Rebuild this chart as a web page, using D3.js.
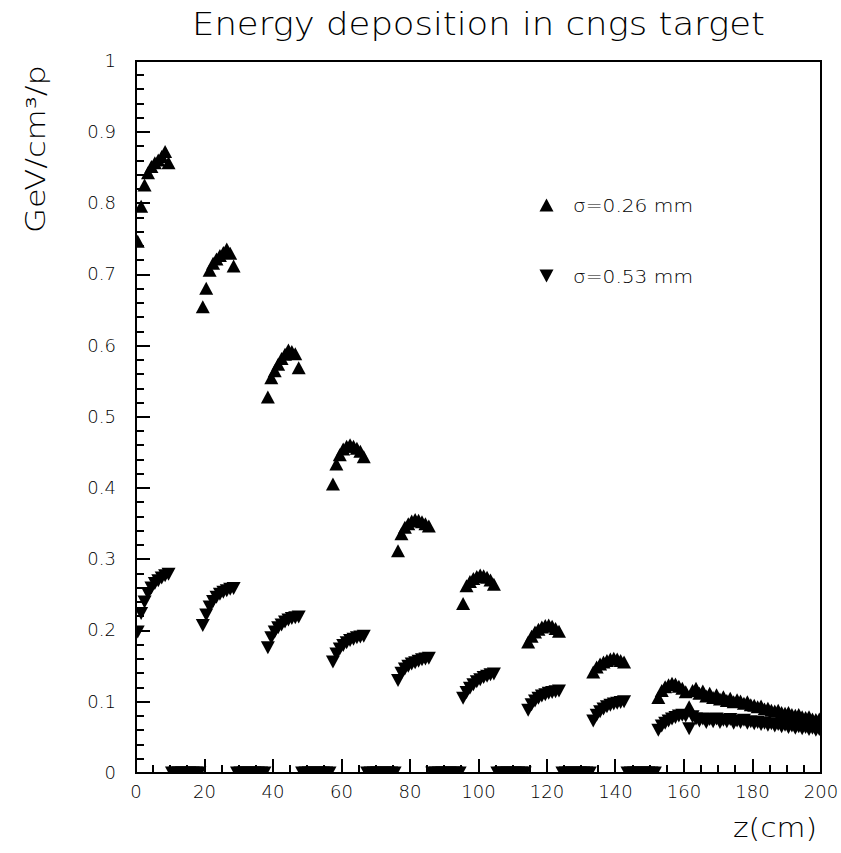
<!DOCTYPE html>
<html><head><meta charset="utf-8">
<script src="https://cdn.jsdelivr.net/npm/d3@7"></script>
<style>html,body{margin:0;padding:0;background:#fff;} svg{display:block;}</style>
</head><body>
<script>
// ---------------- data ----------------
const titleText = "Energy deposition in cngs target";
const xTitle = "z(cm)";
const yTitle = "GeV/cm\u00B3/p";
const seriesNames = ["\u03C3=0.26 mm", "\u03C3=0.53 mm"];

// bin centres along the target (1 cm bins, 0..200 cm)
const zBins = d3.range(0.5, 200, 1);

const xTickValues = [0, 20, 40, 60, 80, 100, 120, 140, 160, 180, 200];
const xTickLabels = ["0","20","40","60","80","100","120","140","160","180","200"];
const yTickValues = [0, 0.1, 0.2, 0.3, 0.4, 0.5, 0.6, 0.7, 0.8, 0.9, 1];
const yTickLabels = ["0","0.1","0.2","0.3","0.4","0.5","0.6","0.7","0.8","0.9","1"];

// sigma = 0.26 mm (upward triangles)
const sigma026 = [
  0.747,0.796,0.826,0.843,0.852,0.857,0.861,0.866,0.873,0.857,
  0,0,0,0,0,0,0,0,0,
  0.655,0.681,0.706,0.716,0.722,0.727,0.731,0.736,0.730,0.712,
  0,0,0,0,0,0,0,0,0,
  0.528,0.555,0.565,0.574,0.582,0.588,0.594,0.592,0.589,0.569,
  0,0,0,0,0,0,0,0,0,
  0.406,0.434,0.447,0.455,0.459,0.461,0.459,0.456,0.452,0.444,
  0,0,0,0,0,0,0,0,0,
  0.312,0.336,0.345,0.350,0.354,0.356,0.355,0.353,0.350,0.347,
  0,0,0,0,0,0,0,0,0,
  0.238,0.263,0.269,0.273,0.276,0.278,0.277,0.275,0.271,0.265,
  0,0,0,0,0,0,0,0,0,
  0.184,0.192,0.198,0.202,0.205,0.207,0.208,0.206,0.203,0.199,
  0,0,0,0,0,0,0,0,0,
  0.142,0.149,0.153,0.156,0.158,0.160,0.161,0.160,0.158,0.156,
  0,0,0,0,0,0,0,0,0,
  0.106,0.116,0.121,0.124,0.126,0.125,0.122,0.119,0.114,0.093,
  0.116,0.119,0.112,0.115,0.108,0.112,0.106,0.110,0.104,0.107,
  0.102,0.105,0.100,0.103,0.101,0.098,0.100,0.096,0.095,0.093,
  0.094,0.090,0.091,0.088,0.087,0.088,0.085,0.084,0.085,0.082,
  0.081,0.082,0.079,0.078,0.079,0.076,0.075,0.076
];

// sigma = 0.53 mm (downward triangles)
const sigma053 = [
  0.198,0.224,0.240,0.252,0.260,0.266,0.270,0.274,0.277,0.279,
  0,0,0,0,0,0,0,0,0,
  0.207,0.222,0.233,0.241,0.247,0.251,0.254,0.256,0.258,0.259,
  0,0,0,0,0,0,0,0,0,
  0.176,0.190,0.198,0.204,0.208,0.212,0.215,0.217,0.218,0.219,
  0,0,0,0,0,0,0,0,0,
  0.156,0.167,0.174,0.179,0.183,0.186,0.188,0.190,0.191,0.192,
  0,0,0,0,0,0,0,0,0,
  0.130,0.140,0.146,0.150,0.153,0.155,0.157,0.159,0.160,0.161,
  0,0,0,0,0,0,0,0,0,
  0.105,0.113,0.119,0.124,0.128,0.131,0.134,0.136,0.138,0.139,
  0,0,0,0,0,0,0,0,0,
  0.088,0.096,0.101,0.105,0.108,0.110,0.112,0.113,0.114,0.115,
  0,0,0,0,0,0,0,0,0,
  0.073,0.081,0.086,0.090,0.093,0.095,0.097,0.098,0.099,0.100,
  0,0,0,0,0,0,0,0,0,
  0.060,0.066,0.070,0.073,0.076,0.078,0.080,0.081,0.080,0.062,
  0.079,0.076,0.073,0.076,0.071,0.075,0.072,0.076,0.071,0.074,
  0.072,0.075,0.070,0.073,0.071,0.074,0.070,0.072,0.069,0.071,
  0.068,0.070,0.067,0.069,0.066,0.068,0.065,0.067,0.064,0.066,
  0.063,0.065,0.062,0.064,0.061,0.063,0.060,0.061
];

// ---------------- drawing ----------------
const W = 841, H = 853;
const FONT = "'DejaVu Sans', sans-serif";
const svg = d3.select("body").append("svg").attr("width", W).attr("height", H);
svg.append("rect").attr("width", W).attr("height", H).attr("fill", "#fff");

const x = d3.scaleLinear().domain([0, 200]).range([136, 821]);
const y = d3.scaleLinear().domain([0, 1]).range([773, 61]);

const upTri = "M0,-6.5L7,6.5L-7,6.5Z";
const downTri = "M0,6.5L7,-6.5L-7,-6.5Z";

svg.append("defs").append("clipPath").attr("id", "plotclip")
  .append("rect").attr("x", 136).attr("y", 61).attr("width", 685).attr("height", 712);

const plot = svg.append("g").attr("clip-path", "url(#plotclip)");
const pts = zBins.map((z, i) => ({z, a: sigma026[i], b: sigma053[i]}));

plot.selectAll("path.up").data(pts).join("path").attr("class", "up")
  .attr("d", upTri).attr("fill", "#000")
  .attr("transform", d => `translate(${x(d.z)},${y(d.a)})`);
plot.selectAll("path.down").data(pts).join("path").attr("class", "down")
  .attr("d", downTri).attr("fill", "#000")
  .attr("transform", d => `translate(${x(d.z)},${y(d.b)})`);

// title
svg.append("text").attr("x", 192).attr("y", 35).attr("textLength", 573)
  .attr("lengthAdjust", "spacingAndGlyphs")
  .style("font-family", FONT).style("font-size", "32px").style("font-weight", 200)
  .text(titleText);

// axis titles
svg.append("text").attr("transform", "translate(45,149) rotate(-90)")
  .attr("text-anchor", "middle").attr("textLength", 168).attr("lengthAdjust", "spacingAndGlyphs")
  .style("font-family", FONT).style("font-size", "26px").style("font-weight", 200)
  .text(yTitle);
svg.append("text").attr("x", 733).attr("y", 837).attr("textLength", 84)
  .attr("lengthAdjust", "spacingAndGlyphs")
  .style("font-family", FONT).style("font-size", "26px").style("font-weight", 200)
  .text(xTitle);

// legend
const legend = svg.append("g");
const legendRows = [{sym: upTri, cy: 205, label: seriesNames[0]}, {sym: downTri, cy: 276, label: seriesNames[1]}];
legendRows.forEach(r => {
  legend.append("path").attr("d", r.sym).attr("fill", "#000")
    .attr("transform", `translate(546.5,${r.cy})`);
  legend.append("text").attr("x", 573).attr("y", r.cy + 7).attr("textLength", 120)
    .attr("lengthAdjust", "spacingAndGlyphs")
    .style("font-family", FONT).style("font-size", "18px").style("font-weight", 200)
    .text(r.label);
});

// axes: labels through d3 axes
const yAxis = d3.axisLeft(y).tickValues(yTickValues).offset(0)
  .tickFormat((d, i) => yTickLabels[i]).tickSize(0).tickPadding(20);
const xAxis = d3.axisBottom(x).tickValues(xTickValues).offset(0)
  .tickFormat((d, i) => xTickLabels[i]).tickSize(0).tickPadding(12);
function styleAxis(g) {
  g.select(".domain").remove();
  g.selectAll(".tick line").remove();
  g.selectAll(".tick text").attr("fill", "#000")
    .style("font-family", FONT).style("font-size", "18px").style("font-weight", 200);
}
svg.append("g").attr("transform", "translate(136,0)").call(yAxis).call(styleAxis);
svg.append("g").attr("transform", "translate(0,773)").call(xAxis).call(styleAxis);

// tick marks (inward), drawn as filled rects from the scales
const yMinor = d3.range(0, 1.0001, 0.02).filter(v => Math.abs(Math.round(v * 10) - v * 10) > 1e-6);
const xMinor = d3.range(0, 200.001, 5).filter(v => v % 20 !== 0);
const ticks = svg.append("g").attr("class", "tickmarks");
const yTicks = yTickValues.map(v => ({v, len: 14})).concat(yMinor.map(v => ({v, len: 8})));
const xTicks = xTickValues.map(v => ({v, len: 14})).concat(xMinor.map(v => ({v, len: 8})));
ticks.selectAll("rect.yt").data(yTicks).join("rect").attr("class", "yt")
  .attr("x", 136).attr("y", d => Math.round(y(d.v)) - 1)
  .attr("width", d => d.len).attr("height", 2).attr("fill", "#000");
ticks.selectAll("rect.xt").data(xTicks).join("rect").attr("class", "xt")
  .attr("x", d => Math.round(x(d.v)) - 1).attr("y", d => 773 - d.len)
  .attr("width", 2).attr("height", d => d.len).attr("fill", "#000");

// frame
svg.append("rect").attr("x", 136).attr("y", 61).attr("width", 685).attr("height", 712)
  .attr("fill", "none").attr("stroke", "#000").attr("stroke-width", 2)
  .attr("shape-rendering", "crispEdges");
</script>
</body></html>
